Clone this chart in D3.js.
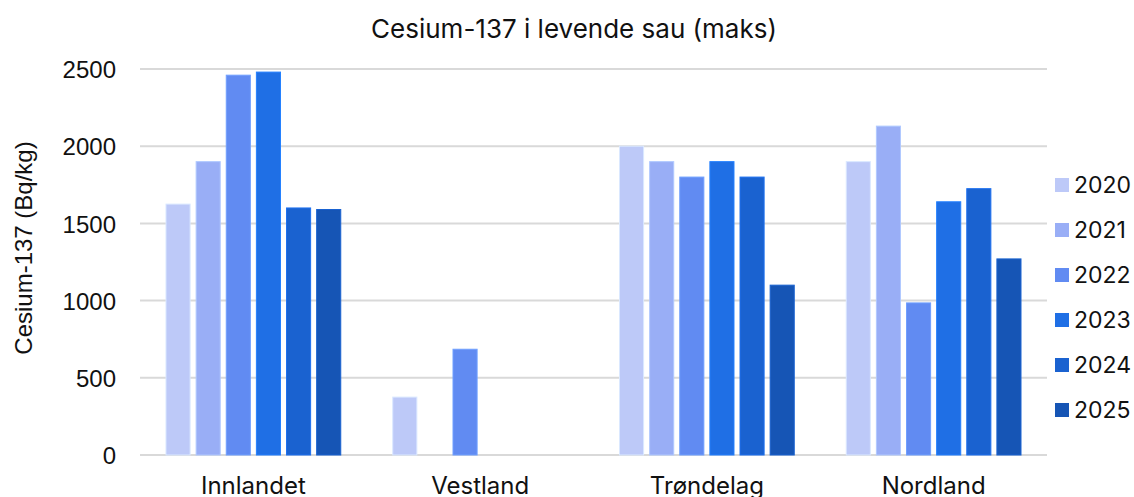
<!DOCTYPE html>
<html>
<head>
<meta charset="utf-8">
<script src="https://cdn.jsdelivr.net/npm/d3@7"></script>
<style>
  body { margin: 0; background: #fff; }
  svg { display: block; }
</style>
</head>
<body>
<svg id="chart"></svg>
<script>
const regions = ['Innlandet', 'Vestland', 'Trøndelag', 'Nordland'];
const years = ['2020', '2021', '2022', '2023', '2024', '2025'];

// one array per year, values in region order (null = no measurement)
const v2020 = [1625, 375, 2000, 1900];
const v2021 = [1900, null, 1900, 2130];
const v2022 = [2460, 685, 1800, 985];
const v2023 = [2480, null, 1900, 1640];
const v2024 = [1600, null, 1800, 1725];
const v2025 = [1590, null, 1100, 1270];

const yTicks = [0, 500, 1000, 1500, 2000, 2500];

const yearValues = [v2020, v2021, v2022, v2023, v2024, v2025];
const yearColors = ['#bdc9f8', '#99aef6', '#618bf2', '#1f6fe5', '#1a62d0', '#1655b5'];

const width = 1134;
const height = 497;
const margin = { top: 69, right: 87, bottom: 42, left: 140 };
const chartWidth = width - margin.left - margin.right;
const chartHeight = height - margin.top - margin.bottom;

const svg = d3.select('#chart').attr('width', width).attr('height', height);

const x0 = d3.scaleBand().domain(regions).range([0, chartWidth]);
const x1 = d3.scaleBand().domain(years).range([26, x0.bandwidth() - 26]).paddingInner(0.2);
const y = d3.scaleLinear().domain([0, 2500]).range([chartHeight, 0]);
const color = d3.scaleOrdinal().domain(years).range(yearColors);

const chart = svg.append('g').attr('transform', `translate(${margin.left},${margin.top})`);

// gridlines
chart.append('g')
  .selectAll('line')
  .data(yTicks)
  .join('line')
  .attr('x1', 0)
  .attr('x2', chartWidth)
  .attr('y1', (d) => y(d))
  .attr('y2', (d) => y(d))
  .attr('stroke', '#d9d9d9')
  .attr('stroke-width', 2);

// y tick labels
const yAxis = chart.append('g')
  .call(d3.axisLeft(y).tickValues(yTicks).tickFormat(d3.format('d')).tickSize(0).tickPadding(24));
yAxis.attr('font-family', '"Liberation Sans", Arial, sans-serif').attr('font-size', 24);
yAxis.select('.domain').remove();
yAxis.selectAll('text').attr('fill', '#111').attr('dy', '0.36em');

// x labels (the reference crops them at the bottom edge)
const xAxis = chart.append('g')
  .attr('transform', `translate(0,${chartHeight})`)
  .call(d3.axisBottom(x0).tickSize(0).tickPadding(0));
xAxis.attr('font-family', 'Inter, sans-serif').attr('font-size', 24);
xAxis.select('.domain').remove();
xAxis.selectAll('text').attr('fill', '#111').attr('dy', null).attr('y', 39);

// bars
const rows = regions.map((region, i) => ({
  region,
  values: years.map((year, j) => ({ year, value: yearValues[j][i] }))
}));

chart.append('g')
  .selectAll('g')
  .data(rows)
  .join('g')
  .attr('transform', (d) => `translate(${x0(d.region)},0)`)
  .selectAll('rect')
  .data((d) => d.values.filter((v) => v.value != null))
  .join('rect')
  .attr('x', (d) => x1(d.year))
  .attr('y', (d) => y(d.value))
  .attr('width', x1.bandwidth())
  .attr('height', (d) => chartHeight - y(d.value))
  .attr('fill', (d) => color(d.year))
  .attr('stroke', (d) => d3.color(color(d.year)).brighter(0.4))
  .attr('stroke-width', 1);

// title
svg.append('text')
  .attr('x', 574)
  .attr('y', 38)
  .attr('text-anchor', 'middle')
  .attr('font-family', 'Inter, sans-serif')
  .attr('font-size', 26)
  .attr('fill', '#111')
  .text('Cesium-137 i levende sau (maks)');

// y axis title
svg.append('text')
  .attr('transform', `translate(32,248) rotate(-90)`)
  .attr('text-anchor', 'middle')
  .attr('font-family', '"Liberation Sans", Arial, sans-serif')
  .attr('font-size', 24)
  .attr('fill', '#111')
  .text('Cesium-137 (Bq/kg)');

// legend
const legend = svg.append('g').attr('transform', 'translate(1055,185)');
years.forEach((year, i) => {
  const item = legend.append('g').attr('transform', `translate(0,${i * 45})`);
  item.append('rect')
    .attr('x', 0)
    .attr('y', -7)
    .attr('width', 14)
    .attr('height', 14)
    .attr('fill', color(year));
  item.append('text')
    .attr('x', 19)
    .attr('y', 0)
    .attr('dy', '0.36em')
    .attr('font-family', 'Inter, sans-serif')
    .attr('font-size', 23)
    .attr('fill', '#111')
    .text(year);
});
</script>
</body>
</html>
